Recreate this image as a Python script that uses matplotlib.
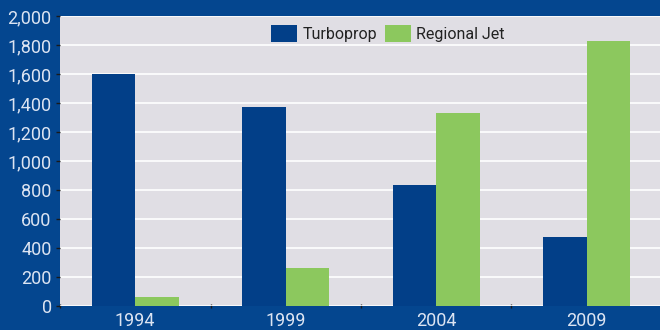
import numpy as np
import matplotlib.pyplot as plt
from matplotlib.ticker import FuncFormatter, FixedLocator

years = ['1994', '1999', '2004', '2009']
turboprop = [1600, 1375, 836, 478]
regional_jet = [64, 264, 1333, 1830]

BG = '#04468f'
PANEL = '#e0dee4'
BLUE = '#023f88'
GREEN = '#8cc85e'
LABEL = '#dce4f2'

plt.rcParams['font.family'] = ['Roboto', 'DejaVu Sans']

fig = plt.figure(figsize=(6.6, 3.3), dpi=100, facecolor=BG)
ax = fig.add_axes([60 / 660, 1 - 306.3 / 330, 602 / 660, 290.3 / 330])
ax.set_facecolor(PANEL)

x = np.arange(len(years))
w = 0.29
ax.bar(x - w / 2, turboprop, w, color=BLUE, label='Turboprop', zorder=3)
ax.bar(x + w / 2, regional_jet, w, color=GREEN, label='Regional Jet', zorder=3)

ax.set_xlim(-0.5, len(years) - 0.5)
ax.set_ylim(0, 2000)
ax.set_yticks(range(0, 2001, 200))
ax.yaxis.set_major_formatter(FuncFormatter(lambda v, p: f'{int(v):,}'))
ax.grid(axis='y', color='white', linewidth=1.2, zorder=1)

# category boundaries carry the tick marks, labels sit at the centers
ax.xaxis.set_major_locator(FixedLocator(np.arange(-0.5, len(years), 1.0)))
ax.xaxis.set_major_formatter(FuncFormatter(lambda v, p: ''))
ax.xaxis.set_minor_locator(FixedLocator(x))
ax.set_xticklabels(years, minor=True)
ax.tick_params(axis='x', which='major', length=3, width=1, color='#1a1a1a', direction='inout')
ax.tick_params(axis='x', which='minor', length=0, pad=4, labelsize=13, labelcolor=LABEL)
ax.tick_params(axis='y', length=3, width=1, color='#1a1a1a', pad=3, labelsize=13, labelcolor=LABEL)

for s in ax.spines.values():
    s.set_visible(False)

leg = ax.legend(loc='upper center', bbox_to_anchor=(0.545, 1.0), ncol=2, frameon=False,
                fontsize=11.5, handlelength=1.6, handleheight=1.3, handletextpad=0.35,
                columnspacing=0.5, borderaxespad=0.15)
for t in leg.get_texts():
    t.set_color('#222222')

fig.savefig('out.png', dpi=100, facecolor=BG)
